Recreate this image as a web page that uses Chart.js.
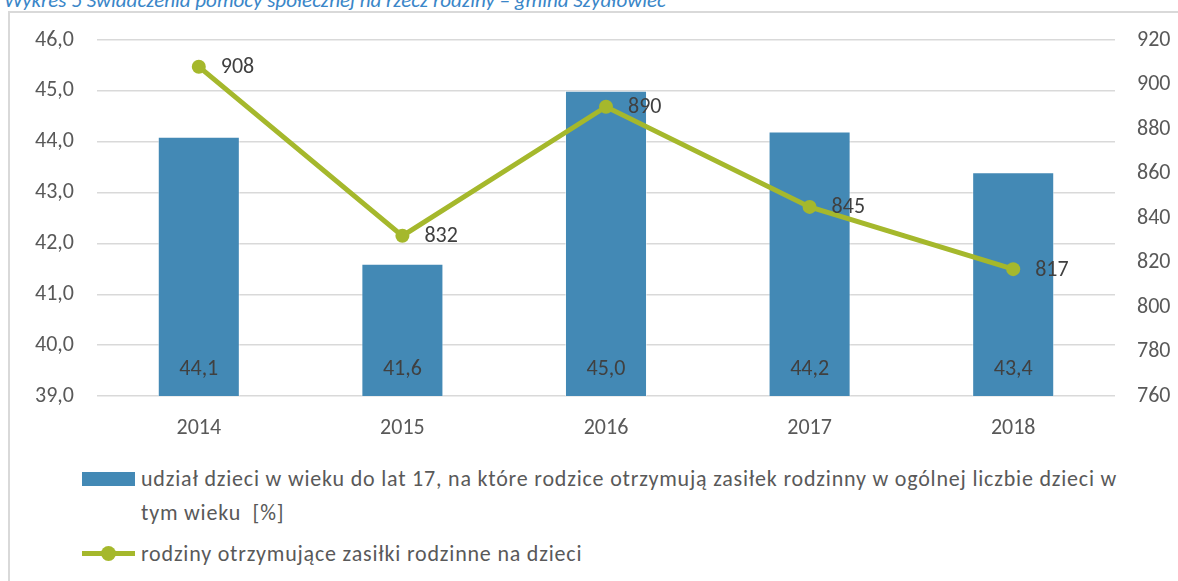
<!DOCTYPE html>
<html lang="pl">
<head>
<meta charset="utf-8">
<script src="https://cdn.jsdelivr.net/npm/chart.js@4/dist/chart.umd.min.js"></script>
<style>
    body { margin: 0; background: #fff; overflow: hidden; width: 1178px; height: 581px; position: relative; font-family: Carlito, Lato, sans-serif; }
    #caption { position: absolute; left: 4px; top: -13px; font-size: 21px; font-style: italic; color: #3a86c8; white-space: nowrap; }
    #frame { position: absolute; left: 8px; top: 11px; width: 1200px; height: 600px; border: 2px solid #d9d9d9; box-sizing: border-box; }
    #chart { position: absolute; left: 0; top: 0; }
    #legend { position: absolute; left: 82px; top: 462px; width: 1080px; color: #595959; font-size: 22px; letter-spacing: 0.8px; }
    .item { display: flex; align-items: flex-start; margin-bottom: 7px; }
    .item .mark { width: 53px; flex: none; position: relative; height: 30px; }
    .item .text { width: 995px; line-height: 34px; margin-left: 6px; white-space: pre-wrap; }
</style>
</head>
<body>
<div id="caption">Wykres 5 Świadczenia pomocy społecznej na rzecz rodziny – gmina Szydłowiec</div>
<div id="frame"></div>
<canvas id="chart" width="1178" height="450"></canvas>
<div id="legend"></div>
<script>
    // dane
    const years = ["2014", "2015", "2016", "2017", "2018"];
    const shareOfChildren = [44.1, 41.6, 45.0, 44.2, 43.4];
    const families = [908, 832, 890, 845, 817];
    const shareLabel = "udział dzieci w wieku do lat 17, na które rodzice otrzymują zasiłek rodzinny w ogólnej liczbie dzieci w tym wieku  [%]";
    const familiesLabel = "rodziny otrzymujące zasiłki rodzinne na dzieci";

    const blue = "#4389b5";
    const green = "#a5b82c";
    const fontFamily = "Carlito, Lato, sans-serif";

    const valueLabels = {
        id: "valueLabels",
        afterDatasetsDraw: function (chart) {
            const ctx = chart.ctx;
            const bottom = chart.scales.y.getPixelForValue(chart.scales.y.min);
            ctx.save();
            ctx.font = "22px " + fontFamily;
            ctx.fillStyle = "#404040";
            ctx.textBaseline = "middle";

            chart.getDatasetMeta(1).data.forEach(function (bar, i) {
                ctx.textAlign = "center";
                ctx.fillText(shareOfChildren[i].toFixed(1).replace(".", ","), bar.x, bottom - 27);
            });
            chart.getDatasetMeta(0).data.forEach(function (pt, i) {
                ctx.textAlign = "left";
                ctx.fillText(String(families[i]), pt.x + 22, pt.y + 1);
            });
            ctx.restore();
        }
    };

    const myChart = new Chart(document.getElementById("chart"), {
        type: "bar",
        data: {
            labels: years,
            datasets: [{
                type: "line",
                label: familiesLabel,
                data: families,
                yAxisID: "y2",
                borderColor: green,
                backgroundColor: green,
                borderWidth: 5,
                pointRadius: 7,
                pointBackgroundColor: green,
                pointBorderWidth: 0,
                tension: 0,
                order: 0
            },
                {
                    label: shareLabel,
                    data: shareOfChildren,
                    yAxisID: "y",
                    backgroundColor: blue,
                    borderColor: "rgba(255,255,255,0.5)",
                    borderWidth: 1,
                    categoryPercentage: 1,
                    barPercentage: 0.403,
                    order: 1
                }]
        },
        options: {
            responsive: false,
            animation: false,
            layout: { padding: { top: 40, left: 0, right: 0, bottom: 0 } },
            plugins: {
                legend: { display: false },
                tooltip: { enabled: false }
            },
            scales: {
                x: {
                    grid: { display: false },
                    border: { display: false },
                    ticks: { color: "#595959", font: { family: fontFamily, size: 22 }, padding: 11 },
                    afterFit: function (scale) { scale.height = 54; }
                },
                y: {
                    position: "left",
                    min: 39,
                    max: 46,
                    grid: { color: "#d9d9d9", lineWidth: 1.5, drawTicks: false },
                    border: { display: false },
                    ticks: {
                        stepSize: 1,
                        color: "#595959",
                        font: { family: fontFamily, size: 22 },
                        padding: 23,
                        callback: function (v) { return v.toFixed(1).replace(".", ","); }
                    },
                    afterFit: function (scale) { scale.width = 97; }
                },
                y2: {
                    position: "right",
                    min: 760,
                    max: 920,
                    grid: { drawOnChartArea: false, drawTicks: false },
                    border: { display: false },
                    ticks: { stepSize: 20, color: "#595959", font: { family: fontFamily, size: 22 }, padding: 22 },
                    afterFit: function (scale) { scale.width = 63; }
                }
            }
        },
        plugins: [valueLabels]
    });

    // legenda jak w oryginale: najpierw słupki, potem linia
    const legend = document.getElementById("legend");
    [myChart.data.datasets[1], myChart.data.datasets[0]].forEach(function (ds) {
        const item = document.createElement("div");
        item.className = "item";
        const mark = document.createElement("div");
        mark.className = "mark";
        if (ds.type === "line") {
            mark.innerHTML = '<div style="position:absolute;left:0;right:0;top:14px;height:5px;background:' + green + '"></div>' +
                '<div style="position:absolute;left:19px;top:9px;width:15px;height:15px;border-radius:50%;background:' + green + '"></div>';
        } else {
            mark.innerHTML = '<div style="position:absolute;left:0;right:0;top:10px;height:14px;background:' + blue + '"></div>';
        }
        const text = document.createElement("div");
        text.className = "text";
        text.textContent = ds.label;
        item.appendChild(mark);
        item.appendChild(text);
        legend.appendChild(item);
    });
</script>
</body>
</html>
